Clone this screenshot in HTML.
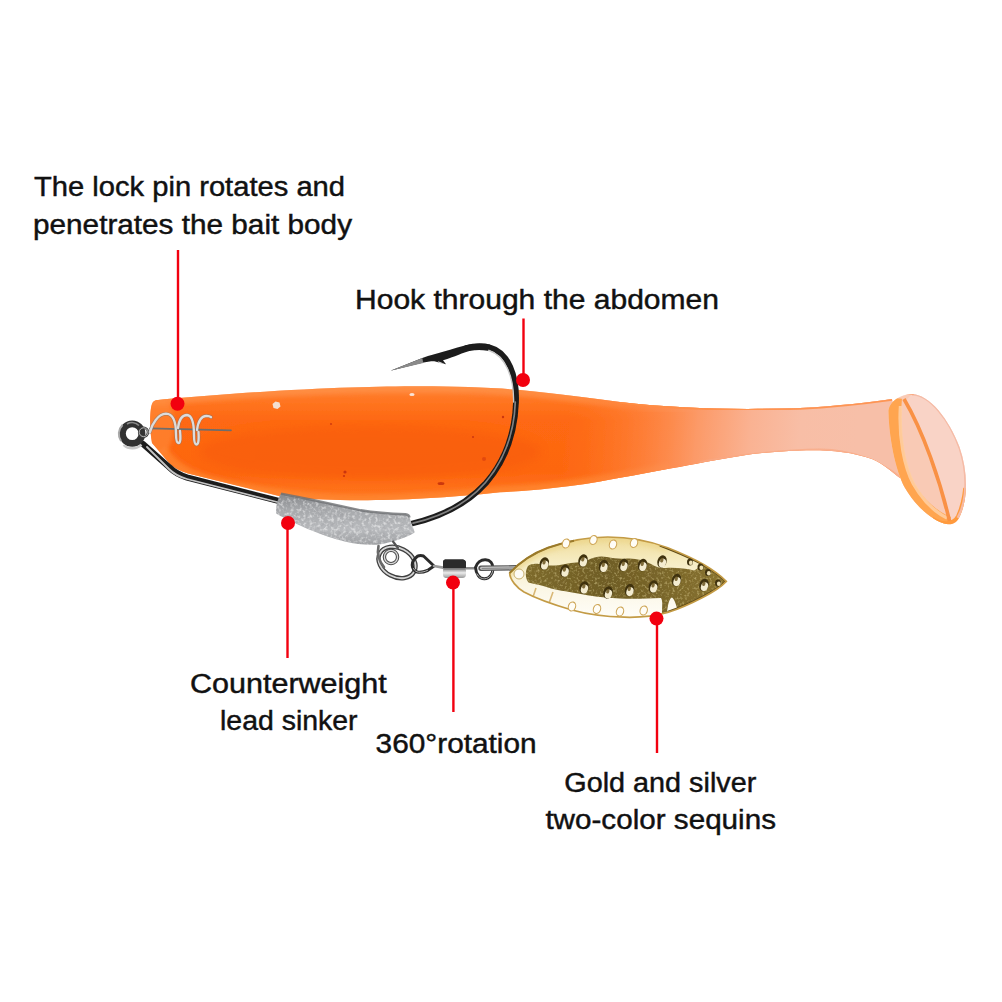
<!DOCTYPE html>
<html><head><meta charset="utf-8"><title>Lure</title>
<style>
html,body{margin:0;padding:0;background:#fff;}
body{width:1002px;height:1002px;overflow:hidden;font-family:"Liberation Sans",sans-serif;}
svg{display:block;}
text{font-family:"Liberation Sans",sans-serif;font-size:28.4px;fill:#111;stroke:#111;stroke-width:0.45px;}
</style></head><body>
<svg width="1002" height="1002" viewBox="0 0 1002 1002">
<defs>
<linearGradient id="gBodyV" x1="0" y1="0" x2="0" y2="1">
<stop offset="0" stop-color="#ff8436"/><stop offset="0.12" stop-color="#ff7622"/><stop offset="0.3" stop-color="#fe6812"/><stop offset="0.75" stop-color="#fd6610"/><stop offset="1" stop-color="#ff7620"/>
</linearGradient>
<linearGradient id="gTailH" gradientUnits="userSpaceOnUse" x1="610" y1="0" x2="900" y2="30">
<stop offset="0" stop-color="#ff7a2a" stop-opacity="0"/><stop offset="0.22" stop-color="#fe8440" stop-opacity="0.6"/><stop offset="0.45" stop-color="#fc9a68" stop-opacity="1"/><stop offset="0.63" stop-color="#fab292" stop-opacity="1"/><stop offset="0.8" stop-color="#f8bea6" stop-opacity="1"/><stop offset="1" stop-color="#f7bfa8" stop-opacity="1"/>
</linearGradient>
<filter id="b1"><feGaussianBlur stdDeviation="0.7"/></filter>
<filter id="b2"><feGaussianBlur stdDeviation="2"/></filter>
<filter id="b4"><feGaussianBlur stdDeviation="5"/></filter>
<clipPath id="cBody"><path d="M158,400 C220,394 300,389 350,387.5 C420,385.5 470,386 520,390 C560,394 590,398 620,402 C680,409 740,410 800,408 C840,406 870,402 892,399 L900,478 C892,472 884,464 872,459 C850,451 825,449.5 800,450.4 C775,451.5 755,453.5 740,456 C715,460 695,464 670,468.6 C645,473.5 620,478 600,481.5 C580,485 560,487.5 540,489.4 C525,490.8 512,491.5 500,492.3 C440,499 380,501 340,500 C320,499.5 300,499 281,496.5 L188,473.5 C180,471 174,468 170,464 L152,443 C150,432 149.5,418 151,408 C152,402 154,400 158,400 Z"/></clipPath>

<filter id="b05"><feGaussianBlur stdDeviation="0.45"/></filter>
<clipPath id="cPad"><path d="M888.5,413 C888,403 898,395 911,394 C929,393.5 949,419 959.5,447 C968,471 968.5,500 959,518 C956,524 950,525.5 944,523.5 C930,519 915,505 905,488 C895,470 889,436 888.5,413 Z"/></clipPath>
<clipPath id="cBlade"><path d="M509.6,573 C520,562 534,553 548,547.8 C568,540.5 590,537 607.8,537 C630,537 650,541 667.7,547.8 C682,553.5 694,559 703.6,564.5 C713,570 721,576 726.3,581.3 C721,587 713,592 703.6,596.9 C692,603 680,608.5 667.7,612.4 C653,616.5 638,617.6 624.5,617.2 C606,616.7 588,614.5 571.9,610 C553,604.5 536,598.5 524,592 C517,588 510,580 509.6,573 Z"/></clipPath>
<linearGradient id="gSink" x1="0" y1="0" x2="0" y2="1"><stop offset="0" stop-color="#85878a"/><stop offset="0.3" stop-color="#a6a8ab"/><stop offset="0.7" stop-color="#b8babd"/><stop offset="1" stop-color="#a0a2a5"/></linearGradient>
<linearGradient id="gBarrel" x1="0" y1="0" x2="0" y2="1"><stop offset="0" stop-color="#333"/><stop offset="0.5" stop-color="#8a8a8a"/><stop offset="0.72" stop-color="#ececec"/><stop offset="1" stop-color="#9a9a9a"/></linearGradient>
<linearGradient id="gBlade" x1="0" y1="0" x2="0" y2="1"><stop offset="0" stop-color="#efdc9a"/><stop offset="0.3" stop-color="#f6ecc2"/><stop offset="0.62" stop-color="#fbf6e4"/><stop offset="1" stop-color="#fefdf8"/></linearGradient>
<linearGradient id="gBladeDark" x1="0" y1="0" x2="1" y2="0"><stop offset="0" stop-color="#7d6a2c"/><stop offset="0.4" stop-color="#6f5d25"/><stop offset="0.75" stop-color="#7c682b"/><stop offset="1" stop-color="#8a7430"/></linearGradient>
<filter id="noise" x="0" y="0" width="100%" height="100%"><feTurbulence type="fractalNoise" baseFrequency="0.32" numOctaves="2" seed="3" result="n"/><feColorMatrix in="n" type="matrix" values="0 0 0 0 1  0 0 0 0 1  0 0 0 0 1  0 0 0 3.2 -1.5" result="m"/><feComposite in="m" in2="SourceGraphic" operator="in"/></filter>
<filter id="noise2" x="0" y="0" width="100%" height="100%"><feTurbulence type="fractalNoise" baseFrequency="0.4" numOctaves="2" seed="8" result="n"/><feColorMatrix in="n" type="matrix" values="0 0 0 0 0.95  0 0 0 0 0.85  0 0 0 0 0.45  0 0 0 3 -1.5" result="m"/><feComposite in="m" in2="SourceGraphic" operator="in"/></filter>
<filter id="noise3" x="0" y="0" width="100%" height="100%"><feTurbulence type="fractalNoise" baseFrequency="0.22" numOctaves="2" seed="11" result="n"/><feColorMatrix in="n" type="matrix" values="0 0 0 0 0.3  0 0 0 0 0.3  0 0 0 0 0.32  0 0 0 3 -1.55" result="m"/><feComposite in="m" in2="SourceGraphic" operator="in"/></filter>
</defs>
<rect width="1002" height="1002" fill="#fff"/>

<!-- body -->
<g filter="url(#b1)">
<path d="M158,400 C220,394 300,389 350,387.5 C420,385.5 470,386 520,390 C560,394 590,398 620,402 C680,409 740,410 800,408 C840,406 870,402 892,399 L900,478 C892,472 884,464 872,459 C850,451 825,449.5 800,450.4 C775,451.5 755,453.5 740,456 C715,460 695,464 670,468.6 C645,473.5 620,478 600,481.5 C580,485 560,487.5 540,489.4 C525,490.8 512,491.5 500,492.3 C440,499 380,501 340,500 C320,499.5 300,499 281,496.5 L188,473.5 C180,471 174,468 170,464 L152,443 C150,432 149.5,418 151,408 C152,402 154,400 158,400 Z" fill="url(#gBodyV)"/>
<g clip-path="url(#cBody)">
<ellipse cx="370" cy="452" rx="170" ry="26" fill="#f65a06" opacity="0.5" filter="url(#b4)"/>
<path d="M150,400 C220,394 300,389 350,387.5 C420,385.5 470,386 520,390 C560,394 590,398 620,402 C680,409 740,410 800,408" fill="none" stroke="#ff9650" stroke-width="12" opacity="0.6" filter="url(#b2)"/>
<path d="M670,468.6 C645,473.5 620,478 600,481.5 C580,485 560,487.5 540,489.4 C525,490.8 512,491.5 500,492.3 C440,499 380,501 340,500 C290,498 240,490 210,482 C185,475 170,465 162,450" fill="none" stroke="#ff8a34" stroke-width="12" opacity="0.7" filter="url(#b2)"/>
<ellipse cx="160" cy="425" rx="14" ry="30" fill="#ff8c3c" opacity="0.6" filter="url(#b2)"/>
<rect x="450" y="380" width="460" height="120" fill="url(#gTailH)"/>
<path d="M620,402 C680,409 740,410 800,408 C840,406 870,402 892,399" fill="none" stroke="#ff8d45" stroke-width="3.5" opacity="0.85" filter="url(#b1)"/>
<path d="M700,463 C740,455 790,451 820,450.5 C850,451 875,459 900,478" fill="none" stroke="#f9a983" stroke-width="4" opacity="0.7" filter="url(#b1)"/>
</g>
<!-- specks -->
<path d="M272.5,404 L275.5,401.6 L279.5,402.6 L280.5,406.5 L277.5,409 L273.5,408 Z" fill="#f3ded2"/>
<ellipse cx="412" cy="394.5" rx="2.6" ry="1.5" fill="#fbe3d6"/>
<g fill="#c02a08" opacity="0.8">
<circle cx="345" cy="472" r="1.6"/><circle cx="503" cy="417" r="1.2"/><ellipse cx="441" cy="483.5" rx="3.4" ry="1.5"/><circle cx="473" cy="437" r="1"/><circle cx="331" cy="424" r="0.9"/><circle cx="344" cy="476" r="1.1"/><circle cx="484" cy="459" r="2" opacity="0.5"/>
</g>
</g>

<!-- tail paddle -->
<g filter="url(#b1)">
<path d="M888.5,413 C888,403 898,395 911,394 C929,393.5 949,419 959.5,447 C968,471 968.5,500 959,518 C956,524 950,525.5 944,523.5 C930,519 915,505 905,488 C895,470 889,436 888.5,413 Z" fill="#f9d3c6"/>
<g clip-path="url(#cPad)">
<path d="M888,413 C888,402 900,395 912,394 L906,400 C925,440 940,490 949,524 L944,523 C930,519 915,505 905,488 C895,470 889,435 888,413 Z" fill="#f9cab5"/>
<path d="M893.5,398 C890,435 897,470 907,488 C917,505 932,519 948,525" fill="none" stroke="#ffa550" stroke-width="17" filter="url(#b1)"/>
<path d="M900.5,406 C898.5,438 904.5,467 913.5,484 C922.5,500 935,512 947,518" fill="none" stroke="#ffcfa0" stroke-width="3.4" opacity="0.9" filter="url(#b1)"/>
<path d="M904,399 C923,431 940,480 950,523" fill="none" stroke="#f99145" stroke-width="3.6" filter="url(#b1)"/>
<path d="M932,519 C942,525 953,526 958.5,516 C962,508 964.5,498 965.5,488" fill="none" stroke="#ff9a3c" stroke-width="4.5" filter="url(#b1)"/>
<path d="M912,394 C930,394 950,420 960,448 C968,472 968,500 958,518" fill="none" stroke="#f5bba6" stroke-width="3" filter="url(#b1)"/>
<path d="M896,396 C902,393 908,392.5 914,393.5" fill="none" stroke="#fba77a" stroke-width="3" filter="url(#b1)"/>
</g>
</g>

<!-- hook -->
<g fill="none" stroke-linecap="round" filter="url(#b05)">
<!-- shank -->
<path d="M143,444 L169,467 Q176,474 187,477.5 L281,501.5" stroke="#1c1c1c" stroke-width="6.2"/>
<path d="M147,447 L169,469 Q176,476 187,479 L281,503" stroke="#c4c4c4" stroke-width="1.8"/>
<!-- bend -->
<path d="M412,523.5 C440,517 466,505 486,483 C505,461 515,432 516,402 C517,376 508,352 490,347.5 C482,345.5 474,346 466,348" stroke="#1c1c1c" stroke-width="5.8"/>
<path d="M413,523.2 C441,516.7 466.5,504.5 485.5,482.5 C504,460.5 514.3,432 515.3,402" stroke="#8c8c8c" stroke-width="1.7" opacity="0.9"/>
<path d="M513.6,402 C514,378 506,356 489,350.5 C486,349.5 483,349.3 480,349.5" stroke="#c9c9c9" stroke-width="1.4"/>
</g>
<g filter="url(#b05)">
<path d="M390.4,370.8 L422.3,357.9 C430,355.5 437,353.6 443.9,351.6 C452,349.2 461,346.5 469.4,344.6 C476,343.4 483,343.6 490,344.6 L488,350.8 C482,349.8 476,349.8 469.4,351 C464,352.6 459,354.6 455,356.3 C451,357.8 446,359.3 443,360.3 L446,364.3 C442,363.6 438,362.2 434.3,361.3 C430,361.3 426,362 422.3,362.8 Z" fill="#1c1c1c"/>
<path d="M390.4,370.8 L422.3,357.9 L423.3,362.9 Z" fill="#8a8a8a"/>
<path d="M437.5,361 L444.5,363.8 L440,363.4 Z" fill="#ddd"/>
</g>
<!-- hook eye -->
<g fill="none" filter="url(#b05)">
<circle cx="132.2" cy="433.6" r="9.8" stroke="#333" stroke-width="6.8"/>
<path d="M121,441 A12.6,12.6 0 0 1 122.5,425" stroke="#a9a9a9" stroke-width="2"/>
<path d="M123.5,444.8 A13,13 0 0 0 141.5,444.6" stroke="#c9c9c9" stroke-width="2.4"/>
<path d="M127,424 A10,10 0 0 1 139,425.5" stroke="#8a8a8a" stroke-width="1.6"/>
<circle cx="143.6" cy="432.2" r="4.4" stroke="#3c3c3c" stroke-width="2.6"/>
<circle cx="143.6" cy="432.2" r="4.4" stroke="#c4c4c4" stroke-width="0.9"/>
</g>
<!-- lock pin spring -->
<g fill="none" stroke-linecap="round" filter="url(#b05)">
<path d="M150,428.3 L231,430.3" stroke="#6d6d6d" stroke-width="1.7"/>
<g stroke="#777" stroke-width="3.6" opacity="0.55">
<path d="M150,432 C152,424 158,414 166,413.7 C174,414 176,424 176,434 C176,440 176.5,443 178.5,443 C181,443 180.5,436 180,431"/>
<path d="M178,428 C179,420 182,415 187,415 C193,415.5 194,425 194,435 C194,441 194.5,444.5 196.5,444.5 C199,444.5 198.8,437 198.5,432"/>
<path d="M197,430 C198,422 201,416 206.5,415.8 C208.5,415.8 210,416.3 211,417.2"/>
</g>
<g stroke="#dcdcdc" stroke-width="2.3">
<path d="M150,432 C152,424 158,414 166,413.7 C174,414 176,424 176,434 C176,440 176.5,443 178.5,443 C181,443 180.5,436 180,431"/>
<path d="M178,428 C179,420 182,415 187,415 C193,415.5 194,425 194,435 C194,441 194.5,444.5 196.5,444.5 C199,444.5 198.8,437 198.5,432"/>
<path d="M197,430 C198,422 201,416 206.5,415.8 C208.5,415.8 210,416.3 211,417.2"/>
</g>
</g>

<!-- sinker -->
<g filter="url(#b1)">
<path d="M281,493.6 C292,495.8 302,497.8 312.9,500 C329,503.4 345,507 360.8,510.3 C376,512.8 391,513.8 405.5,514.3 C408,514.6 409.2,515.8 409.5,517.5 L414.3,531 C414.6,532 414.5,532.5 414.3,532.7 C408,536.5 400,539.5 392.7,541.5 C387,543 382,544.3 376.8,544.7 C366,545.2 355,544 344.8,541.5 C333,538.5 323,535 312.9,531 C305,528 298,524.8 292,521.5 C286,518.8 281,516.5 276.2,513.5 C275.6,506 277.5,499 281,493.6 Z" fill="url(#gSink)"/>
<path d="M281,493.6 C292,495.8 302,497.8 312.9,500 C329,503.4 345,507 360.8,510.3 C376,512.8 391,513.8 405.5,514.3 C408,514.6 409.2,515.8 409.5,517.5 L414.3,531 C414.6,532 414.5,532.5 414.3,532.7 C408,536.5 400,539.5 392.7,541.5 C387,543 382,544.3 376.8,544.7 C366,545.2 355,544 344.8,541.5 C333,538.5 323,535 312.9,531 C305,528 298,524.8 292,521.5 C286,518.8 281,516.5 276.2,513.5 C275.6,506 277.5,499 281,493.6 Z" fill="#fff" filter="url(#noise)" opacity="0.5"/>
<path d="M281,493.6 C292,495.8 302,497.8 312.9,500 C329,503.4 345,507 360.8,510.3 C376,512.8 391,513.8 405.5,514.3 C408,514.6 409.2,515.8 409.5,517.5 L414.3,531 C414.6,532 414.5,532.5 414.3,532.7 C408,536.5 400,539.5 392.7,541.5 C387,543 382,544.3 376.8,544.7 C366,545.2 355,544 344.8,541.5 C333,538.5 323,535 312.9,531 C305,528 298,524.8 292,521.5 C286,518.8 281,516.5 276.2,513.5 C275.6,506 277.5,499 281,493.6 Z" fill="#555" filter="url(#noise3)" opacity="0.35"/>
<path d="M281,493.6 C292,495.8 302,497.8 312.9,500 C329,503.4 345,507 360.8,510.3 C376,512.8 391,513.8 405.5,514.3 C408,514.6 409.2,515.8 409.5,517.5" fill="none" stroke="#6e7073" stroke-width="2.4" opacity="0.8" filter="url(#b1)"/>
</g>

<!-- ring + swivel -->
<g fill="none" filter="url(#b05)" stroke-linecap="round" stroke-linejoin="round">
<ellipse cx="397" cy="562.5" rx="19.5" ry="14.5" stroke="#3f3f3f" stroke-width="4.4" transform="rotate(28 397 562.5)"/>
<ellipse cx="397" cy="562.5" rx="19.5" ry="14.5" stroke="#d4d4d4" stroke-width="1.8" transform="rotate(28 397 562.5)"/>
<path d="M378.5,546 C377,553 379,561 384,567" stroke="#6a6a6a" stroke-width="2.6"/>
<circle cx="391" cy="557" r="6.6" stroke="#4a4a4a" stroke-width="3.4"/>
<circle cx="391" cy="557" r="6.6" stroke="#d8d8d8" stroke-width="1.3"/>
<path d="M393,541.5 L398,548" stroke="#555" stroke-width="2.2"/>
<!-- swivel left eye -->
<path d="M434,566 L423.5,556 C420,555 417,556 415.3,558.3 C412.5,561 411.8,564.5 412.6,567.3 C413.5,570 415.5,572 418.3,572.3 C421.5,572.6 424.5,571.8 427.5,570.5 Z" stroke="#2c2c2c" stroke-width="3"/>
<path d="M413.5,568.5 C414.5,570.8 416.5,572 418.5,572.2 C421.5,572.5 424.5,571.7 427.5,570.4" stroke="#b5b5b5" stroke-width="1"/>
<path d="M434,566 L443,567.6" stroke="#9a9a9a" stroke-width="2.6"/>
<!-- swivel right eye -->
<path d="M465.5,568.2 L475,568.2" stroke="#8a8a8a" stroke-width="2.6"/>
<path d="M475.5,567.5 C477,562.5 481,559.6 485.5,559.8 C490,560 493,563.5 493,568.5 C493,574 489.5,578.5 484.5,578.8 C479.5,579 476,574 475.5,567.5 Z" stroke="#2c2c2c" stroke-width="3"/>
<path d="M477,574 C479,577.5 481.5,578.9 484.5,578.8 C489.5,578.5 493,574 493,568.5" stroke="#b5b5b5" stroke-width="1"/>
<!-- wire to blade -->
<path d="M481,568.3 L517,567.8" stroke="#555" stroke-width="5.4"/>
<path d="M481.5,568.3 L517,567.8" stroke="#c8c8c8" stroke-width="3"/>
<path d="M482,568.4 L517,567.9" stroke="#777" stroke-width="0.9"/>
</g>
<g filter="url(#b05)">
<path d="M445,559.5 L463,559.5 Q466,560 466,563 L466,575 Q465.5,578 462.5,578 L445.5,578 Q443,577.6 443,575 L443,562 Q443.2,559.8 445,559.5 Z" fill="url(#gBarrel)"/>
<path d="M445,559.5 L463,559.5 Q466,560 466,563 L466,568 L443,568 L443,562 Q443.2,559.8 445,559.5 Z" fill="#2a2a2a"/>
<rect x="444" y="568" width="21" height="1.6" fill="#777" opacity="0.8"/>
</g>

<!-- blade -->
<g filter="url(#b05)">
<path d="M509.6,573 C520,562 534,553 548,547.8 C568,540.5 590,537 607.8,537 C630,537 650,541 667.7,547.8 C682,553.5 694,559 703.6,564.5 C713,570 721,576 726.3,581.3 C721,587 713,592 703.6,596.9 C692,603 680,608.5 667.7,612.4 C653,616.5 638,617.6 624.5,617.2 C606,616.7 588,614.5 571.9,610 C553,604.5 536,598.5 524,592 C517,588 510,580 509.6,573 Z" fill="url(#gBlade)"/>
<g clip-path="url(#cBlade)">
<path d="M505,576 C520,562 534,553 548,547.8 C568,540.5 590,537 607.8,537 C630,537 650,541 667.7,547.8" fill="none" stroke="#ecd58a" stroke-width="9" opacity="0.7" filter="url(#b2)"/>
<path d="M528,566 C532,562.5 538,563.5 545,565 C553,566.5 560,565 568,563.5 C576,562 582,562.5 588,560 C594,557 600,555.5 607,557 C614,558.5 620,559 627,558.5 C636,558 644,560.5 651,564 C656,567 660,568.5 666,568 C676,567.5 686,568.5 694,570.5 C698,569 700,565 703.6,564.5 C713,570 721,576 726.3,581.3 C721,587 713,592 703.6,596.9 C695,601.5 686,606 677.5,609.5 C676,605 675,600 672,597.5 C669,598.5 668,605 667,612 L662,613.5 C662,607 663,601 661,598 C648,598.5 634,599 620,598.5 C604,598 590,596 578,593.5 C566,591 556,590.5 548,587.5 C540,584.5 533,584 528.5,582.5 C525,578 525,571 528,566 Z" fill="url(#gBladeDark)" filter="url(#b1)"/>
<path d="M528,566 C532,562.5 538,563.5 545,565 C553,566.5 560,565 568,563.5 C576,562 582,562.5 588,560 C594,557 600,555.5 607,557 C614,558.5 620,559 627,558.5 C636,558 644,560.5 651,564 C656,567 660,568.5 666,568 C676,567.5 686,568.5 694,570.5 C698,569 700,565 703.6,564.5 C713,570 721,576 726.3,581.3 C721,587 713,592 703.6,596.9 C695,601.5 686,606 677.5,609.5 C676,605 675,600 672,597.5 C669,598.5 668,605 667,612 L662,613.5 C662,607 663,601 661,598 C648,598.5 634,599 620,598.5 C604,598 590,596 578,593.5 C566,591 556,590.5 548,587.5 C540,584.5 533,584 528.5,582.5 C525,578 525,571 528,566 Z" fill="#fff" filter="url(#noise2)" opacity="0.4"/>
<path d="M660,545 C682,553.5 694,559 703.6,564.5 C713,570 721,576 726.3,581.3 C721,587 713,592 703.6,596.9 C692,603 680,608.5 667.7,612.4" fill="none" stroke="#5e4a16" stroke-width="3" filter="url(#b1)"/>
<path d="M532,600 L536,588 M548,606 L553,592" stroke="#d9b876" stroke-width="1.6" fill="none"/>
</g>
<path d="M509.6,573 C520,562 534,553 548,547.8 C568,540.5 590,537 607.8,537 C630,537 650,541 667.7,547.8 C682,553.5 694,559 703.6,564.5 C713,570 721,576 726.3,581.3 C721,587 713,592 703.6,596.9 C692,603 680,608.5 667.7,612.4 C653,616.5 638,617.6 624.5,617.2 C606,616.7 588,614.5 571.9,610 C553,604.5 536,598.5 524,592 C517,588 510,580 509.6,573 Z" fill="none" stroke="#c39b45" stroke-width="1.7"/>
<path d="M509.6,573 C520,562 534,553 548,547.8 C556,545 565,542.5 574,540.7" fill="none" stroke="#9a7a2c" stroke-width="2"/>
<circle cx="519" cy="574" r="5" fill="#fdfbf4" stroke="#c8b070" stroke-width="1"/>
<g><g transform="rotate(18 544.3 563.5)"><ellipse cx="544.3" cy="563.5" rx="4.6" ry="6.3" fill="#3f3210"/><ellipse cx="545.1999999999999" cy="564.8" rx="3.5" ry="4.6" fill="#f4ecd0"/><ellipse cx="543.6999999999999" cy="562.3" rx="1.6" ry="2.4" fill="#6b5620" opacity="0.85"/></g><g transform="rotate(18 564.7 570.7)"><ellipse cx="564.7" cy="570.7" rx="4.6" ry="6.3" fill="#3f3210"/><ellipse cx="565.6" cy="572.0" rx="3.5" ry="4.6" fill="#f4ecd0"/><ellipse cx="564.1" cy="569.5" rx="1.6" ry="2.4" fill="#6b5620" opacity="0.85"/></g><g transform="rotate(18 583 560.5)"><ellipse cx="583" cy="560.5" rx="4.6" ry="6.3" fill="#3f3210"/><ellipse cx="583.9" cy="561.8" rx="3.5" ry="4.6" fill="#f4ecd0"/><ellipse cx="582.4" cy="559.3" rx="1.6" ry="2.4" fill="#6b5620" opacity="0.85"/></g><g transform="rotate(18 603.5 566)"><ellipse cx="603.5" cy="566" rx="4.6" ry="6.3" fill="#3f3210"/><ellipse cx="604.4" cy="567.3" rx="3.5" ry="4.6" fill="#f4ecd0"/><ellipse cx="602.9" cy="564.8" rx="1.6" ry="2.4" fill="#6b5620" opacity="0.85"/></g><g transform="rotate(18 623.5 565)"><ellipse cx="623.5" cy="565" rx="4.6" ry="6.3" fill="#3f3210"/><ellipse cx="624.4" cy="566.3" rx="3.5" ry="4.6" fill="#f4ecd0"/><ellipse cx="622.9" cy="563.8" rx="1.6" ry="2.4" fill="#6b5620" opacity="0.85"/></g><g transform="rotate(18 642.5 565)"><ellipse cx="642.5" cy="565" rx="4.6" ry="6.3" fill="#3f3210"/><ellipse cx="643.4" cy="566.3" rx="3.5" ry="4.6" fill="#f4ecd0"/><ellipse cx="641.9" cy="563.8" rx="1.6" ry="2.4" fill="#6b5620" opacity="0.85"/></g><g transform="rotate(18 662 561.5)"><ellipse cx="662" cy="561.5" rx="4.6" ry="6.3" fill="#3f3210"/><ellipse cx="662.9" cy="562.8" rx="3.5" ry="4.6" fill="#f4ecd0"/><ellipse cx="661.4" cy="560.3" rx="1.6" ry="2.4" fill="#6b5620" opacity="0.85"/></g><g transform="rotate(18 676.5 580)"><ellipse cx="676.5" cy="580" rx="4.6" ry="6.3" fill="#3f3210"/><ellipse cx="677.4" cy="581.3" rx="3.5" ry="4.6" fill="#f4ecd0"/><ellipse cx="675.9" cy="578.8" rx="1.6" ry="2.4" fill="#6b5620" opacity="0.85"/></g><g transform="rotate(18 704 585)"><ellipse cx="704" cy="585" rx="4.6" ry="6.3" fill="#3f3210"/><ellipse cx="704.9" cy="586.3" rx="3.5" ry="4.6" fill="#f4ecd0"/><ellipse cx="703.4" cy="583.8" rx="1.6" ry="2.4" fill="#6b5620" opacity="0.85"/></g><g transform="rotate(18 653.3 586.5)"><ellipse cx="653.3" cy="586.5" rx="4.6" ry="6.3" fill="#3f3210"/><ellipse cx="654.1999999999999" cy="587.8" rx="3.5" ry="4.6" fill="#f4ecd0"/><ellipse cx="652.6999999999999" cy="585.3" rx="1.6" ry="2.4" fill="#6b5620" opacity="0.85"/></g><g transform="rotate(18 629.5 590)"><ellipse cx="629.5" cy="590" rx="4.6" ry="6.3" fill="#3f3210"/><ellipse cx="630.4" cy="591.3" rx="3.5" ry="4.6" fill="#f4ecd0"/><ellipse cx="628.9" cy="588.8" rx="1.6" ry="2.4" fill="#6b5620" opacity="0.85"/></g><g transform="rotate(18 608 592.5)"><ellipse cx="608" cy="592.5" rx="4.6" ry="6.3" fill="#3f3210"/><ellipse cx="608.9" cy="593.8" rx="3.5" ry="4.6" fill="#f4ecd0"/><ellipse cx="607.4" cy="591.3" rx="1.6" ry="2.4" fill="#6b5620" opacity="0.85"/></g><g transform="rotate(18 584 587.5)"><ellipse cx="584" cy="587.5" rx="4.6" ry="6.3" fill="#3f3210"/><ellipse cx="584.9" cy="588.8" rx="3.5" ry="4.6" fill="#f4ecd0"/><ellipse cx="583.4" cy="586.3" rx="1.6" ry="2.4" fill="#6b5620" opacity="0.85"/></g><ellipse cx="690" cy="562" rx="3" ry="3.6" fill="#3f3210"/><ellipse cx="690.8" cy="562.8" rx="1.9" ry="2.2" fill="#efe3b8"/><ellipse cx="700.5" cy="567" rx="3" ry="3.6" fill="#3f3210"/><ellipse cx="701.3" cy="567.8" rx="1.9" ry="2.2" fill="#efe3b8"/><ellipse cx="708" cy="572.5" rx="3" ry="3.6" fill="#3f3210"/><ellipse cx="708.8" cy="573.3" rx="1.9" ry="2.2" fill="#efe3b8"/><ellipse cx="718" cy="583" rx="3" ry="3.6" fill="#3f3210"/><ellipse cx="718.8" cy="583.8" rx="1.9" ry="2.2" fill="#efe3b8"/><ellipse cx="613" cy="544.5" rx="3.6" ry="4.6" transform="rotate(18 613 544.5)" fill="#fffdf6" stroke="#cfa85a" stroke-width="1.1"/><ellipse cx="634" cy="543" rx="3.6" ry="4.6" transform="rotate(18 634 543)" fill="#fffdf6" stroke="#cfa85a" stroke-width="1.1"/><ellipse cx="593.4" cy="540" rx="3.6" ry="4.6" transform="rotate(18 593.4 540)" fill="#fffdf6" stroke="#cfa85a" stroke-width="1.1"/><ellipse cx="566" cy="543.5" rx="3.6" ry="4.6" transform="rotate(18 566 543.5)" fill="#fffdf6" stroke="#cfa85a" stroke-width="1.1"/><ellipse cx="597" cy="609" rx="3.6" ry="4.6" transform="rotate(18 597 609)" fill="#fffdf6" stroke="#cfa85a" stroke-width="1.1"/><ellipse cx="620" cy="611.5" rx="3.6" ry="4.6" transform="rotate(18 620 611.5)" fill="#fffdf6" stroke="#cfa85a" stroke-width="1.1"/><ellipse cx="643.7" cy="610.5" rx="3.6" ry="4.6" transform="rotate(18 643.7 610.5)" fill="#fffdf6" stroke="#cfa85a" stroke-width="1.1"/><ellipse cx="572" cy="606.5" rx="3.6" ry="4.6" transform="rotate(18 572 606.5)" fill="#fffdf6" stroke="#cfa85a" stroke-width="1.1"/></g>
</g>

<!-- callout lines -->
<g stroke="#f2000f" stroke-width="2.4">
<line x1="178" y1="250" x2="178" y2="404"/>
<line x1="523.5" y1="318.5" x2="523.5" y2="380"/>
<line x1="287.5" y1="523" x2="287.5" y2="658"/>
<line x1="453.4" y1="583" x2="453.4" y2="712"/>
<line x1="657" y1="619" x2="657" y2="753"/>
</g>
<g fill="#f2000f">
<circle cx="177.5" cy="403.7" r="7"/>
<circle cx="523" cy="380" r="7"/>
<circle cx="288" cy="523" r="7"/>
<circle cx="453" cy="582.6" r="7"/>
<circle cx="656.5" cy="618.6" r="7"/>
</g>

<!-- text -->
<text x="34" y="195.5" textLength="311" lengthAdjust="spacingAndGlyphs">The lock pin rotates and</text>
<text x="33" y="233.5" textLength="319" lengthAdjust="spacingAndGlyphs">penetrates the bait body</text>
<text x="355" y="308.7" textLength="364" lengthAdjust="spacingAndGlyphs">Hook through the abdomen</text>
<text x="190" y="692.7" textLength="196.8" lengthAdjust="spacingAndGlyphs">Counterweight</text>
<text x="220" y="729.8" textLength="137.6" lengthAdjust="spacingAndGlyphs">lead sinker</text>
<text x="375.6" y="752.6" textLength="161" lengthAdjust="spacingAndGlyphs">360°rotation</text>
<text x="564.3" y="792.2" textLength="192" lengthAdjust="spacingAndGlyphs">Gold and silver</text>
<text x="545.4" y="829.4" textLength="230.6" lengthAdjust="spacingAndGlyphs">two-color sequins</text>
</svg>
</body></html>
